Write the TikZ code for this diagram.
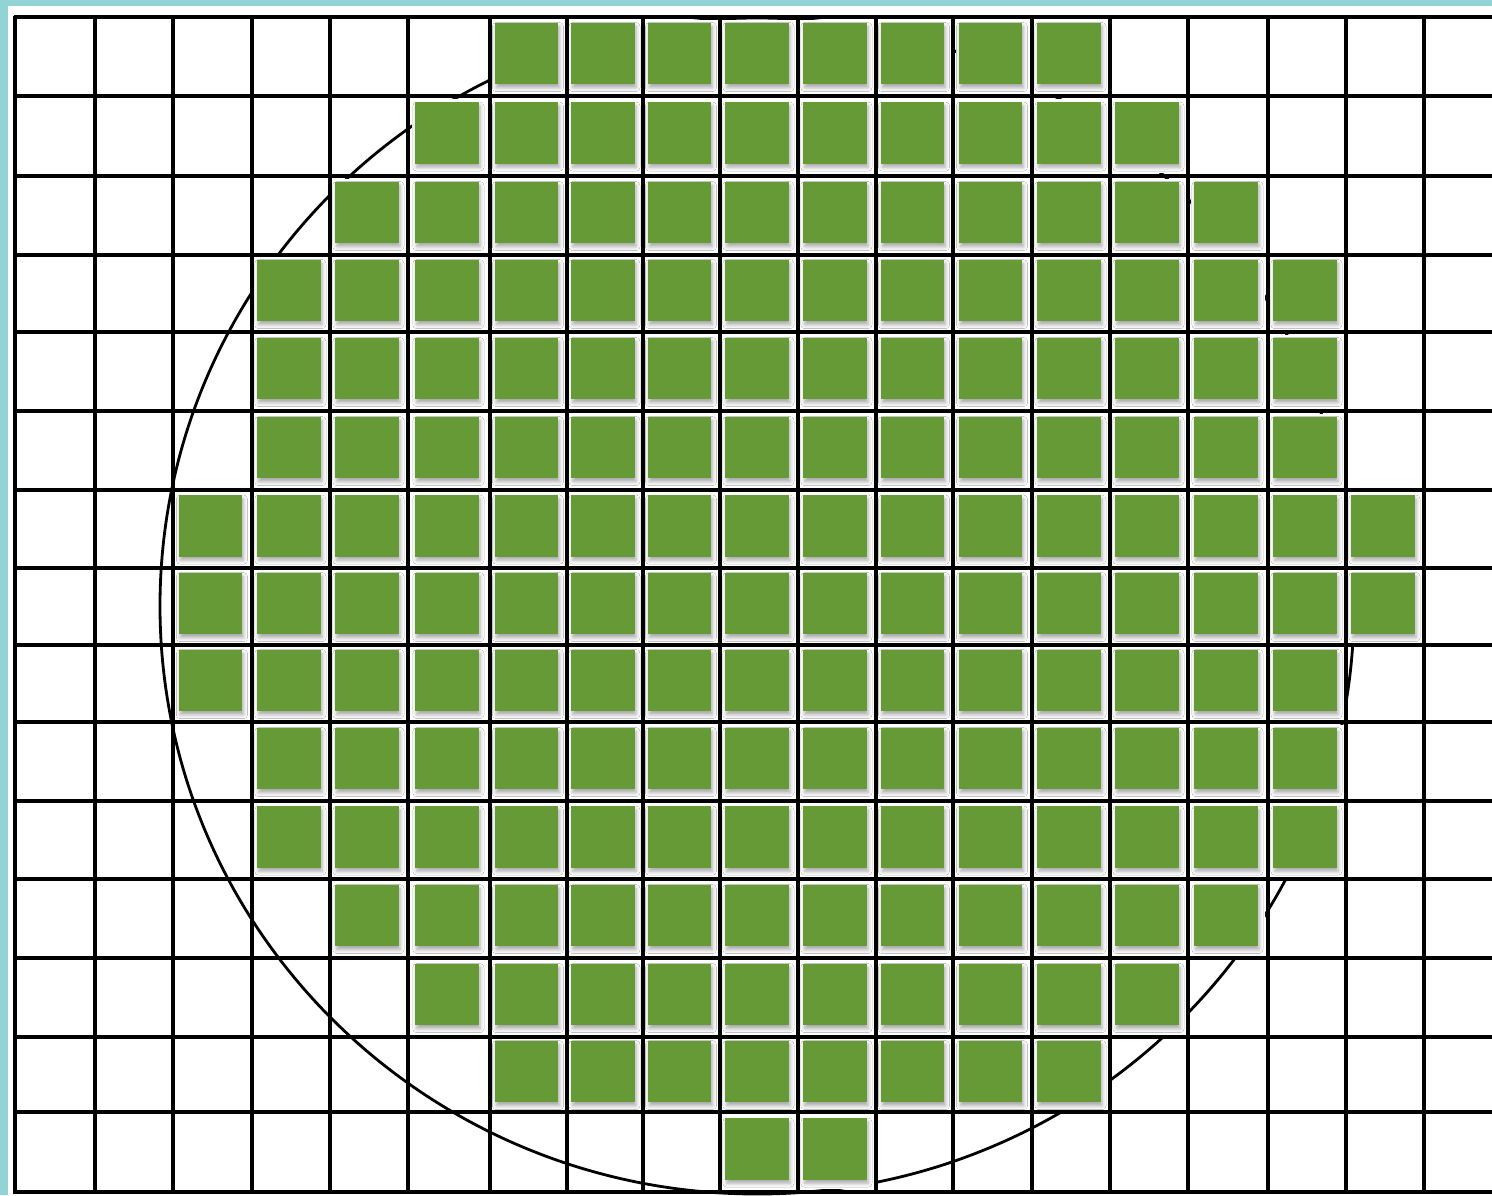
\documentclass[tikz,border=0pt]{standalone}
\usepackage{tikz}
\usetikzlibrary{shadows.blur}
\definecolor{diegreen}{HTML}{659A37}
\definecolor{paperteal}{HTML}{92D4D6}
\tikzset{
	halonode/.style={
			shape=rectangle,
			fill=white,
			draw=none,
			minimum size=37pt,
			inner sep=0pt
		},
	dienode/.style={
			shape=rectangle,
			fill=diegreen,
			draw=none,
			minimum width=31.6pt,
			minimum height=30.6pt,
			inner sep=0pt,
			xshift=-1pt,
			yshift=1.5pt,
			blur shadow={shadow xshift=0.7pt, shadow yshift=-1.8pt,
				shadow blur radius=2pt, shadow opacity=35}
		},
	gridline/.style={
			black,
			line width=1.9pt
		},
	waferline/.style={
			black,
			line width=1.4pt
		}
}
% grid lines, as drawn by hand
\newcommand{\colx}{15,95,173,252,330,408,490,567,643,720,798,876,953,1032,1110,1188,1268,1346,1424}
\newcommand{\rowy}{17,96,176,255,332,411,490,568,645,722,801,879,958,1037,1112,1192}
% middles of the cells
\newcommand{\colmid}{55,134,212.5,291,369,449,528.5,605,681.5,759,837,914.5,992.5,1071,1149,1228,1307,1385,1463}
\newcommand{\rowmid}{56.5,136,215.5,293.5,371.5,450.5,529,606.5,683.5,761.5,840,918.5,997.5,1074.5,1152}
% row / first column / last column of the dies
\newcommand{\dierows}{0/6/13, 1/5/14, 2/4/15, 3/3/16, 4/3/16, 5/3/16, 6/2/17,
  7/2/17, 8/2/16, 9/3/16, 10/3/16, 11/4/15, 12/5/14, 13/6/13, 14/9/10}
\begin{document}
\begin{tikzpicture}[x=0.5pt, y=-0.5pt]

  \useasboundingbox (0,0) rectangle (1492,1195);
  \fill[paperteal] (0,0) rectangle (1492,1195);
  \fill[white] (8,6) rectangle (1492,1195);

  \foreach \x [count=\i from 0] in \colmid
    \coordinate (cx\i) at (\x,0);
  \foreach \y [count=\j from 0] in \rowmid
    \coordinate (cy\j) at (0,\y);

  % wafer outline
  \draw[waferline] (757,606) ellipse [x radius=597, y radius=588];

  % white cells under the dies
  \foreach \r/\a/\b in \dierows {
    \foreach \c in {\a,...,\b}
      \node[halonode] (h-\r-\c) at (cx\c |- cy\r) {};
  }

  % grid
  \foreach \x in \colx
    \draw[gridline] (\x,16) -- (\x,1194);
  \foreach \y in \rowy
    \draw[gridline] (14,\y) -- (1492,\y);

  % dies
  \foreach \r/\a/\b in \dierows {
    \foreach \c in {\a,...,\b}
      \node[dienode] (d-\r-\c) at (cx\c |- cy\r) {};
  }

\end{tikzpicture}
\end{document}
